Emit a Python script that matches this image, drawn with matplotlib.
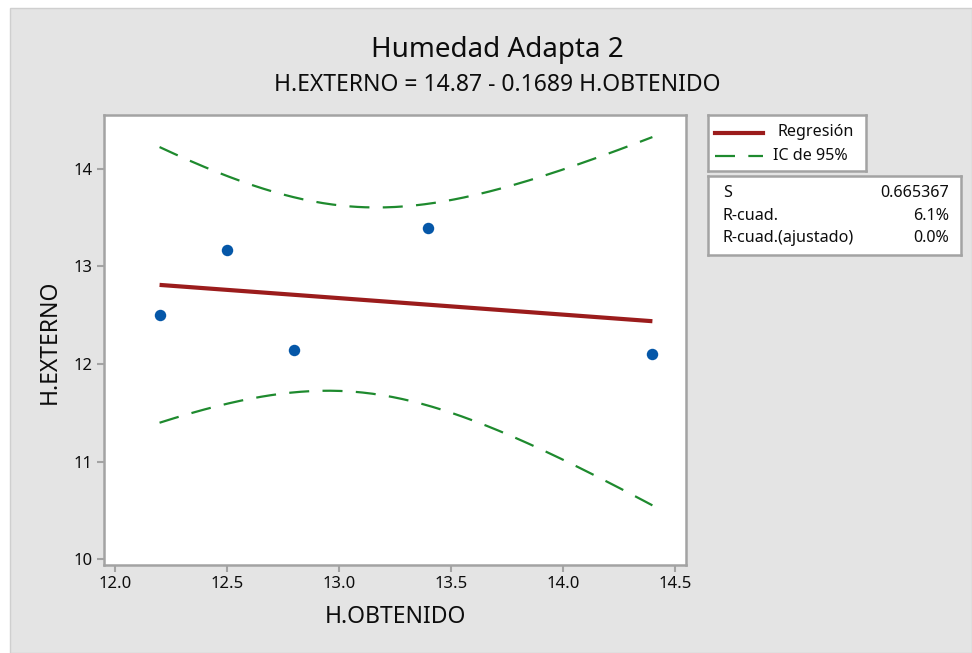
import numpy as np
import matplotlib
matplotlib.use("Agg")
import matplotlib.pyplot as plt
from matplotlib.patches import Rectangle
from matplotlib.lines import Line2D

# ---- data ----
x_obtenido = [12.2, 12.5, 12.8, 13.4, 14.4]
y_externo = [12.5, 13.17, 12.14, 13.39, 12.1]
intercept = 14.87
slope = -0.1689
s_value = 0.665367
t_crit = 3.182  # t(0.975, df=3)
stats_labels = ["S", "R-cuad.", "R-cuad.(ajustado)"]
stats_values = ["0.665367", "6.1%", "0.0%"]
x_ticks = [12.0, 12.5, 13.0, 13.5, 14.0, 14.5]
y_ticks = [10, 11, 12, 13, 14]

FONT = ["Noto Sans", "DejaVu Sans"]
plt.rcParams["font.family"] = FONT

W, H = 972, 653
fig = plt.figure(figsize=(W / 100, H / 100), dpi=100)
fig.patch.set_facecolor("white")

# gray panel background
bg = Rectangle((10 / W, 0), 1 - 10 / W, 1 - 8 / H, transform=fig.transFigure,
               facecolor="#e4e4e4", edgecolor="#cfcfcf", linewidth=1, zorder=-10)
fig.patches.append(bg)

def px(x0, y0, x1, y1):
    return [x0 / W, 1 - y1 / H, (x1 - x0) / W, (y1 - y0) / H]

ax = fig.add_axes(px(104, 115.3, 686, 565))
ax.set_facecolor("white")
ax.set_xlim(11.952, 14.55)
ax.set_ylim(9.943, 14.545)

# regression + CI
xs = np.linspace(min(x_obtenido), max(x_obtenido), 200)
xa = np.array(x_obtenido)
xbar = xa.mean()
sxx = ((xa - xbar) ** 2).sum()
n = len(xa)
fit = intercept + slope * xs
half = t_crit * s_value * np.sqrt(1 / n + (xs - xbar) ** 2 / sxx)

red = "#9b1c1c"
green = "#1e8a2e"
blue = "#0557a8"
txt = "#0d0d0d"
ax.plot(xs, fit, color=red, lw=3.0, solid_capstyle="butt", zorder=3)
ax.plot(xs, fit + half, color=green, lw=1.6, dashes=(9, 6), zorder=3)
ax.plot(xs, fit - half, color=green, lw=1.6, dashes=(9, 6), zorder=3)
ax.scatter(x_obtenido, y_externo, s=68, color=blue, zorder=4, linewidths=0)

for sp in ax.spines.values():
    sp.set_color("#a3a3a3")
    sp.set_linewidth(1.8)
ax.set_xticks(x_ticks)
ax.set_xticklabels([f"{v:.1f}" for v in x_ticks])
ax.set_yticks(y_ticks)
ax.set_yticklabels([str(v) for v in y_ticks])
ax.tick_params(direction="out", length=5, width=1.5, color="#a3a3a3",
               labelsize=12, labelcolor=txt, pad=3)
for lab in ax.get_xticklabels() + ax.get_yticklabels():
    lab.set_fontweight("medium")

fig.text(395 / W, 1 - 617 / H, "H.OBTENIDO", ha="center", va="center", fontsize=16.5,
         color=txt, fontweight="medium")
fig.text(50 / W, 1 - 342 / H, "H.EXTERNO", ha="center", va="center", rotation=90, fontsize=16.5,
         color=txt, fontweight="medium")

fig.text(497 / W, 1 - 50 / H, "Humedad Adapta 2", ha="center", va="center", fontsize=20,
         color=txt, fontweight="medium")
fig.text(497 / W, 1 - 85 / H, "H.EXTERNO = 14.87 - 0.1689 H.OBTENIDO", ha="center", va="center",
         fontsize=16.5, color=txt, fontweight="medium")

# legend box
lax = fig.add_axes(px(708, 115, 866, 171))
lax.set_xlim(708, 866)
lax.set_ylim(171, 115)
lax.set_facecolor("white")
lax.set_xticks([]); lax.set_yticks([])
for sp in lax.spines.values():
    sp.set_color("#a3a3a3"); sp.set_linewidth(1.8)
lax.add_line(Line2D([715, 763], [132.5, 132.5], color=red, lw=3.0))
lax.add_line(Line2D([715, 763], [156, 156], color=green, lw=1.6, dashes=(9, 6)))
lax.text(777, 132, "Regresión", ha="left", va="center", fontsize=11.6, color=txt, fontweight="medium")
lax.text(773, 156, "IC de 95%", ha="left", va="center", fontsize=11.6, color=txt, fontweight="medium")

# stats box
sax = fig.add_axes(px(708, 176, 961, 255))
sax.set_xlim(708, 961)
sax.set_ylim(255, 176)
sax.set_facecolor("white")
sax.set_xticks([]); sax.set_yticks([])
for sp in sax.spines.values():
    sp.set_color("#a3a3a3"); sp.set_linewidth(1.8)
rows_y = [193, 216, 238]
for lab, val, yy in zip(stats_labels, stats_values, rows_y):
    sax.text(723, yy, lab, ha="left", va="center", fontsize=11.6, color=txt, fontweight="medium")
    sax.text(949, yy, val, ha="right", va="center", fontsize=11.6, color=txt, fontweight="medium")

fig.savefig("out.png", dpi=100, facecolor=fig.get_facecolor())
